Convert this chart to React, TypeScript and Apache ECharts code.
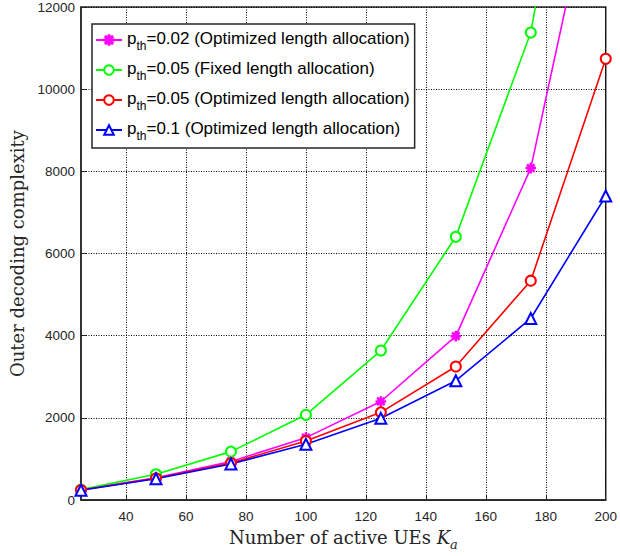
import React, { useEffect, useRef } from 'react';
import * as echarts from 'echarts';

const ka = [25, 50, 75, 100, 125, 150, 175, 200];
const pth002Opt = [250, 545, 940, 1520, 2400, 3990, 8080, 16500];
const pth005Fixed = [255, 630, 1180, 2075, 3640, 6410, 11380, 21500];
const pth005Opt = [245, 530, 900, 1440, 2135, 3250, 5340, 10740];
const pth01Opt = [240, 520, 880, 1360, 1990, 2905, 4420, 7400];
const xTickValues = [40, 60, 80, 100, 120, 140, 160, 180, 200];
const pthValues = ['0.02', '0.05', '0.05', '0.1'];
const allocations = [
  'Optimized length allocation',
  'Fixed length allocation',
  'Optimized length allocation',
  'Optimized length allocation',
];
const colors = ['#ff00ff', '#00ff00', '#ff0000', '#0000ff'];

const STAR =
  'path://M4.5,0h1v10h-1z M0,4.5h10v1h-10z M1.1,1.8L1.8,1.1L8.9,8.2L8.2,8.9z M8.2,1.1L8.9,1.8L1.8,8.9L1.1,8.2z';

const SANS = 'Liberation Sans, Arial, sans-serif';
const SERIF = '"DejaVu Serif", serif';

export default function App() {
  const ref = useRef<HTMLDivElement>(null);
  useEffect(() => {
    const chart = echarts.init(ref.current!, null, { renderer: 'svg' });
    const seriesData = [pth002Opt, pth005Fixed, pth005Opt, pth01Opt];
    const symbols = [STAR, 'emptyCircle', 'emptyCircle', 'emptyTriangle'];
    const sizes = [9, 10, 10, 11];
    const names = pthValues.map((p, i) => `s${i}`);
    const series = seriesData.map((vals, i) => ({
      name: names[i],
      type: 'line',
      data: ka.map((k, j) => [k, vals[j]]),
      symbol: symbols[i],
      symbolSize: sizes[i],
      showAllSymbol: true,
      clip: true,
      lineStyle: { color: colors[i], width: 1.6 },
      itemStyle: { color: colors[i], borderColor: colors[i], borderWidth: 1.6 },
    }));
    const axisColor = '#262626';
    const labelFont = { fontFamily: SANS, fontSize: 13.5, color: axisColor };
    chart.setOption({
      animation: false,
      backgroundColor: '#ffffff',
      grid: {
        left: 78,
        right: 11,
        top: 4,
        bottom: 53,
        show: true,
        borderColor: axisColor,
        borderWidth: 1.5,
        backgroundColor: 'transparent',
      },
      legend: {
        show: true,
        data: names,
        orient: 'vertical',
        left: 92,
        top: 24,
        itemWidth: 26,
        itemHeight: 12,
        itemGap: 8,
        padding: [6, 5, 6, 3],
        borderColor: '#262626',
        borderWidth: 1.5,
        backgroundColor: '#ffffff',
        formatter: (name: string) => {
          const i = names.indexOf(name);
          return `{p|p}{s|th}{t|=${pthValues[i]} (${allocations[i]})}`;
        },
        textStyle: {
          fontFamily: SANS,
          fontSize: 17,
          color: '#000',
          rich: {
            p: { fontSize: 17, lineHeight: 20, verticalAlign: 'top', fontFamily: SANS, color: '#000' },
            t: { fontSize: 17, lineHeight: 20, verticalAlign: 'top', fontFamily: SANS, color: '#000' },
            s: { fontSize: 12, lineHeight: 13, verticalAlign: 'top', padding: [10, 0, 0, 0], fontFamily: SANS, color: '#000' },
          },
        },
      },
      xAxis: [
        {
          type: 'value',
          min: 25,
          max: 200,
          name: '{n|Number of active UEs }{k|K}{a|a}',
          nameLocation: 'middle',
          nameGap: 20,
          nameTextStyle: {
            rich: {
              n: { fontFamily: SERIF, fontSize: 18, color: axisColor, lineHeight: 20, verticalAlign: 'top' },
              k: { fontFamily: SERIF, fontSize: 18, fontStyle: 'italic', color: axisColor, lineHeight: 20, verticalAlign: 'top' },
              a: { fontFamily: SERIF, fontSize: 13, fontStyle: 'italic', color: axisColor, lineHeight: 13, verticalAlign: 'top', padding: [10, 0, 0, 0] },
            },
          },
          axisLine: { show: true, lineStyle: { color: axisColor, width: 1.5 } },
          axisTick: { show: true, inside: true, length: 5, customValues: xTickValues, lineStyle: { color: axisColor } },
          axisLabel: { ...labelFont, margin: 9, customValues: xTickValues },
          splitLine: { show: true, lineStyle: { color: '#000', type: [1, 1.5], width: 1 } },
        },
      ],
      yAxis: [
        {
          type: 'value',
          min: 0,
          max: 12000,
          interval: 2000,
          name: 'Outer decoding complexity',
          nameLocation: 'middle',
          nameGap: 55,
          nameTextStyle: { fontFamily: SERIF, fontSize: 18, color: axisColor },
          axisLine: { show: true, lineStyle: { color: axisColor, width: 1.5 } },
          axisTick: { show: true, inside: true, length: 5, lineStyle: { color: axisColor } },
          axisLabel: { ...labelFont, margin: 6, formatter: (v: number) => String(v) },
          splitLine: { show: true, lineStyle: { color: '#000', type: [1, 1.5], width: 1 } },
        },
      ],
      series,
    });
    return () => chart.dispose();
  }, []);
  return <div ref={ref} style={{ width: 620, height: 556, position: 'absolute', left: 0, top: 0 }} />;
}
